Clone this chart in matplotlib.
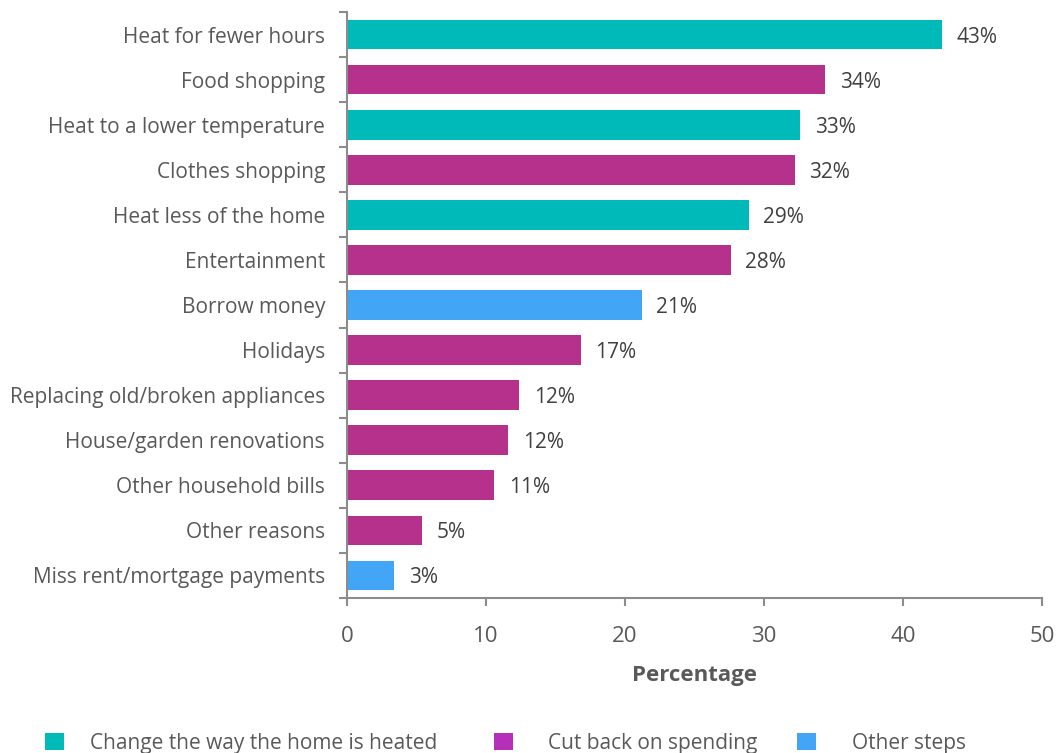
import matplotlib
matplotlib.use("Agg")
import matplotlib.pyplot as plt
from matplotlib.patches import Patch

# Survey responses: steps taken, share of respondents (%)
categories = [
    "Heat for fewer hours",
    "Food shopping",
    "Heat to a lower temperature",
    "Clothes shopping",
    "Heat less of the home",
    "Entertainment",
    "Borrow money",
    "Holidays",
    "Replacing old/broken appliances",
    "House/garden renovations",
    "Other household bills",
    "Other reasons",
    "Miss rent/mortgage payments",
]
values = [42.8, 34.4, 32.6, 32.2, 28.9, 27.6, 21.2, 16.8, 12.4, 11.6, 10.6, 5.4, 3.4]
groups = [
    "heat", "spend", "heat", "spend", "heat", "spend", "other",
    "spend", "spend", "spend", "spend", "spend", "other",
]
group_labels = {
    "heat": "Change the way the home is heated",
    "spend": "Cut back on spending",
    "other": "Other steps",
}
bar_colors = {"heat": "#00B9B9", "spend": "#B5318C", "other": "#42A5F5"}
legend_colors = {"heat": "#00B9B9", "spend": "#B52FB9", "other": "#42A5F5"}
x_ticks = [0, 10, 20, 30, 40, 50]

FONT = "Open Sans"
TEXT = "#595959"
AXIS = "#8C8C8C"

plt.rcParams["font.family"] = [FONT, "DejaVu Sans"]

fig = plt.figure(figsize=(10.56, 7.53), dpi=100)
ax = fig.add_axes([347 / 1056, 1 - 598 / 753, (1042 - 347) / 1056, (598 - 12) / 753])

ypos = list(range(len(categories)))
ax.barh(ypos, values, height=0.66, color=[bar_colors[g] for g in groups], zorder=2)

for y, v in zip(ypos, values):
    ax.text(v + 1.05, y, f"{v:.0f}%", va="center_baseline", ha="left",
            fontsize=15, color="#404040")

ax.set_ylim(len(categories) - 0.5, -0.5)
ax.set_xlim(0, 50)

# category labels centred on bars, tick marks on category boundaries
ax.set_yticks(ypos)
ax.set_yticklabels(categories, fontsize=15, color=TEXT)
ax.tick_params(axis="y", which="major", length=0, pad=22 / 1.39)
ax.set_yticks([i - 0.5 for i in range(len(categories) + 1)], minor=True)
ax.tick_params(axis="y", which="minor", length=5.8, width=1.5, color=AXIS)

ax.set_xticks(x_ticks)
ax.set_xticklabels([str(t) for t in x_ticks], fontsize=16, color=TEXT)
ax.tick_params(axis="x", length=5.8, width=1.5, color=AXIS, pad=14.5)
ax.set_xlabel("Percentage", fontsize=16, fontweight="bold", color=TEXT)
ax.xaxis.set_label_coords(0.5, -(676 - 598) / 586)
ax.xaxis.label.set_va("center")

for side in ("top", "right"):
    ax.spines[side].set_visible(False)
for side in ("left", "bottom"):
    ax.spines[side].set_color(AXIS)
    ax.spines[side].set_linewidth(1.5)

# legend entries laid out along the bottom edge
legend_x = {"heat": 45 / 1056, "spend": 494 / 1056, "other": 797 / 1056}
legend_gap = {"heat": 1.25, "spend": 1.7, "other": 1.75}
for key in ("heat", "spend", "other"):
    handle = Patch(facecolor=legend_colors[key], edgecolor="none")
    fig.legend([handle], [group_labels[key]], loc="center left",
               bbox_to_anchor=(legend_x[key], 1 - 743 / 753),
               frameon=False, fontsize=15, labelcolor=TEXT,
               handlelength=0.9, handleheight=0.9,
               handletextpad=legend_gap[key],
               borderpad=0, borderaxespad=0)

fig.savefig("out.png", dpi=100)
